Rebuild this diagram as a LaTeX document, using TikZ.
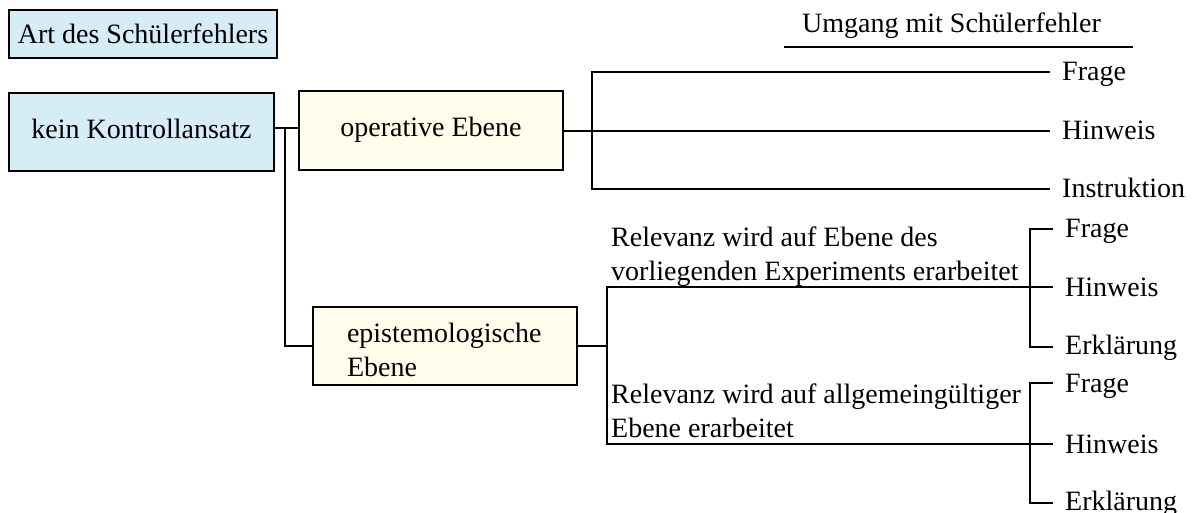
\documentclass[tikz,border=0pt]{standalone}
\usepackage{fontspec}
\setmainfont{Liberation Serif}
\definecolor{boxblue}{HTML}{D6ECF6}
\definecolor{boxyellow}{HTML}{FFFDEB}
\begin{document}
\begin{tikzpicture}[x=1pt,y=-1pt,
  every node/.style={font=\fontsize{28}{34}\selectfont},
  ln/.style={line width=2.2pt},
  bluebox/.style={draw, line width=2.2pt, fill=boxblue, inner sep=0pt},
  yelbox/.style={draw, line width=2.2pt, fill=boxyellow, inner sep=0pt},
  lab/.style={anchor=west, inner xsep=12pt, inner ysep=0pt, text height=25pt, text depth=7pt},
  labE/.style={lab, text height=21pt, text depth=7pt},
  reltext/.style={anchor=south west, inner sep=0pt, align=left}
]
\useasboundingbox (0,0) rectangle (1192,513);

% boxes
\node[bluebox, minimum width=268pt, minimum height=48pt] (art) at (143,34) {Art des Schülerfehlers};
\node[bluebox, minimum width=265pt, minimum height=78pt, text depth=7pt] (kein) at (141.5,132) {kein Kontrollansatz};
\node[yelbox, minimum width=264pt, minimum height=79pt, text depth=7pt] (op) at (431,130.5) {operative Ebene};
\node[yelbox, minimum width=264pt, minimum height=78pt, text width=196pt, inner xsep=34pt, align=left] (epi) at (445,346) {\rule{0pt}{28pt}epistemologische\\Ebene};

% header
\node[anchor=base west, inner sep=0pt] (hdr) at (802,33) {Umgang mit Schülerfehler};
\coordinate (ulA) at (784,47);
\coordinate (ulB) at (1133,47);
\draw[ln] (ulA) -- (ulB);

% kein -> op / epi
\coordinate (j1) at (285,128);
\draw[ln] (kein.east |- j1) -- (op.west |- j1);
\draw[ln] (j1) |- (epi.west);

% operative branch
\coordinate (b1) at (592,131);
\node[lab] (o1) at (1050,72) {Frage};
\node[lab] (o2) at (1050,131) {Hinweis};
\node[lab] (o3) at (1050,189) {Instruktion};
\draw[ln] (op.east |- b1) -- (o2.west);
\draw[ln] (o1.west) -| (b1) |- (o3.west);

% epistemological branch
\coordinate (e0) at (607,346);
\coordinate (r1) at (607,287);
\coordinate (r2) at (607,444);
\coordinate (k1) at (1030,287);
\coordinate (k2) at (1030,444);
\draw[ln] (epi.east) -- (epi.east -| e0);
\draw[ln] (k1) -- (r1) -- (r2) -- (k2);

\node[reltext] (t1) at ([xshift=4pt]r1) {Relevanz wird auf Ebene des\\vorliegenden Experiments erarbeitet\rule[-6pt]{0pt}{1pt}};
\node[reltext] (t2) at ([xshift=4pt]r2) {Relevanz wird auf allgemeingültiger\\Ebene erarbeitet\rule[-6pt]{0pt}{1pt}};

% upper bracket
\node[lab] (u1) at (1053,229) {Frage};
\node[lab] (u2) at (1053,287) {Hinweis};
\node[labE] (u3) at (1053,347) {Erklärung};
\draw[ln] (u1.west) -| (k1) |- (u3.west);
\draw[ln] (k1) -- (u2.west);

% lower bracket
\node[lab] (l1) at (1053,383) {Frage};
\node[lab] (l2) at (1053,444) {Hinweis};
\node[labE] (l3) at (1053,503) {Erklärung};
\draw[ln] (l1.west) -| (k2) |- (l3.west);
\draw[ln] (k2) -- (l2.west);
\end{tikzpicture}
\end{document}
